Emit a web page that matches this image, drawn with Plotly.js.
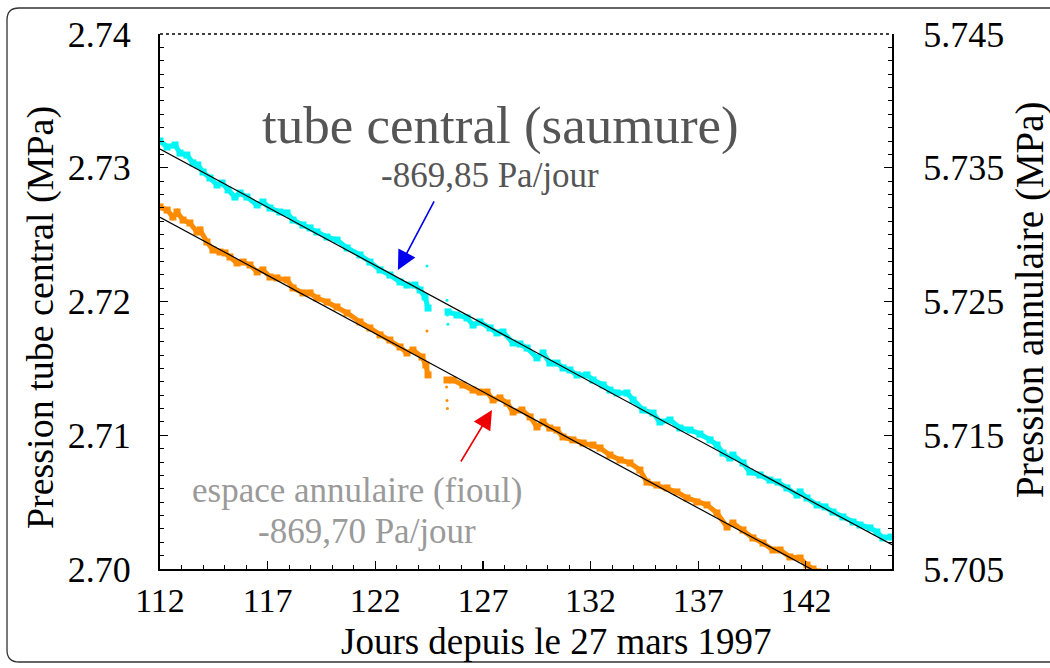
<!DOCTYPE html>
<html>
<head>
<meta charset="utf-8">
<script src="https://cdn.plot.ly/plotly-3.0.1.min.js"></script>
<style>html,body{margin:0;padding:0;background:#fff;}#chart{width:1050px;height:668px;}</style>
</head>
<body>
<div id="chart"></div>
<script>
// ---- data ----
// tube central (saumure) — left axis, MPa
var centralDays = [112.00,112.33,112.70,112.93,113.25,113.53,113.76,114.00,114.32,114.65,114.88,115.16,115.48,115.72,116.04,116.51,116.78,117.11,117.57,117.90,118.18,118.64,118.97,119.29,119.76,120.22,120.69,121.29,121.75,122.22,122.68,123.15,123.47,123.84,124.08,124.31,124.45,124.90,125.38,125.79,126.26,126.54,126.86,127.33,127.65,127.93,128.40,128.72,129.05,129.51,129.79,130.11,130.44,130.72,131.04,131.37,131.83,132.11,132.58,132.90,133.23,133.69,133.97,134.43,134.90,135.22,135.69,136.15,136.62,137.08,137.55,137.87,138.15,138.47,138.61,139.08,139.40,139.87,140.33,140.70,141.12,141.59,141.73,142.05,142.52,142.89,143.26,143.72,144.19,144.51,144.98,145.30,145.58,145.95];
var centralP = [2.73200,2.73155,2.73170,2.73110,2.73095,2.73036,2.73021,2.72968,2.72923,2.72871,2.72886,2.72834,2.72781,2.72811,2.72781,2.72722,2.72744,2.72699,2.72669,2.72662,2.72609,2.72572,2.72550,2.72520,2.72482,2.72460,2.72400,2.72348,2.72295,2.72236,2.72198,2.72146,2.72123,2.72123,2.72086,2.72034,2.71951,null,2.71922,2.71899,2.71877,2.71824,2.71847,2.71802,2.71765,2.71772,2.71690,2.71682,2.71652,2.71578,2.71615,2.71540,2.71540,2.71503,2.71488,2.71451,2.71451,2.71413,2.71376,2.71338,2.71316,2.71316,2.71264,2.71189,2.71166,2.71099,2.71114,2.71054,2.71039,2.71009,2.70965,2.70927,2.70867,2.70830,2.70852,2.70793,2.70725,2.70703,2.70665,2.70650,2.70606,2.70553,2.70576,2.70531,2.70479,2.70464,2.70426,2.70389,2.70351,2.70329,2.70307,2.70277,2.70232,2.70239];
var centralStrayDays = [124.40,125.33,125.35,125.37];
var centralStrayP = [2.72266,2.72010,2.71900,2.71830];

// espace annulaire (fioul) — right axis, MPa
var annDays = [112.00,112.33,112.60,112.79,113.07,113.39,113.72,113.86,114.18,114.46,114.79,115.02,115.25,115.58,115.86,116.18,116.51,116.78,117.11,117.43,117.90,118.18,118.64,118.97,119.29,119.76,120.22,120.69,121.29,121.75,122.22,122.68,123.15,123.47,123.75,124.17,124.35,124.45,124.90,125.33,125.61,126.07,126.54,126.86,127.19,127.47,127.79,128.12,128.40,128.81,129.19,129.51,129.79,130.11,130.44,130.72,131.18,131.65,132.11,132.44,132.90,133.37,133.83,134.29,134.62,135.08,135.55,136.01,136.48,136.94,137.41,137.87,138.34,138.61,139.08,139.54,140.01,140.47,140.80,141.26,141.73,142.05,142.33,142.56];
var annP = [5.73207,5.73184,5.73132,5.73169,5.73109,5.73087,5.73020,5.73035,5.72945,5.72885,5.72870,5.72863,5.72833,5.72788,5.72795,5.72773,5.72721,5.72736,5.72683,5.72676,5.72661,5.72601,5.72564,5.72564,5.72526,5.72496,5.72459,5.72414,5.72347,5.72302,5.72250,5.72212,5.72160,5.72115,5.72137,5.72085,5.72025,5.71951,null,5.71913,5.71913,5.71876,5.71838,5.71823,5.71823,5.71764,5.71779,5.71741,5.71674,5.71689,5.71637,5.71562,5.71599,5.71554,5.71539,5.71487,5.71465,5.71442,5.71427,5.71405,5.71352,5.71315,5.71293,5.71240,5.71150,5.71128,5.71106,5.71076,5.71031,5.71001,5.70979,5.70919,5.70814,5.70844,5.70792,5.70732,5.70694,5.70642,5.70642,5.70590,5.70582,5.70530,5.70500,5.70478];
var annStrayDays = [124.40,125.31,125.33,125.35];
var annStrayP = [5.72280,5.71860,5.71760,5.71700];

// fitted trend lines (end points)
var trendDays = [112, 146];
var trendCentral = [2.7314, 2.70181];
var trendAnn = [5.7313, 5.70173];

// labels
var xTitle = "Jours depuis le 27 mars 1997";
var yTitle = "Pression tube central (MPa)";
var y2Title = "Pression annulaire (MPa)";
var centralLabel = "tube central (saumure)";
var centralRate = "-869,85 Pa/jour";
var annLabel = "espace annulaire (fioul)";
var annRate = "-869,70 Pa/jour";

var FONT = "Liberation Serif";

var traces = [
  {x: centralDays, y: centralP, mode: "lines+markers", line: {color: "#00F5F5", width: 5}, marker: {color: "#00F5F5", size: 7, symbol: "square"}, yaxis: "y", connectgaps: false, hoverinfo: "skip"},
  {x: centralStrayDays, y: centralStrayP, mode: "markers", marker: {color: "#00F5F5", size: 3}, yaxis: "y", hoverinfo: "skip"},
  {x: annDays, y: annP, mode: "lines+markers", line: {color: "#FF8C00", width: 5}, marker: {color: "#FF8C00", size: 7, symbol: "square"}, yaxis: "y2", connectgaps: false, hoverinfo: "skip"},
  {x: annStrayDays, y: annStrayP, mode: "markers", marker: {color: "#FF8C00", size: 3}, yaxis: "y2", hoverinfo: "skip"},
  {x: trendDays, y: trendCentral, mode: "lines", line: {color: "#000", width: 1.2}, yaxis: "y", hoverinfo: "skip"},
  {x: trendDays, y: trendAnn, mode: "lines", line: {color: "#000", width: 1.2}, yaxis: "y2", hoverinfo: "skip"}
];

var layout = {
  width: 1050, height: 668,
  margin: {l: 160, r: 158, t: 34, b: 99, pad: 0},
  paper_bgcolor: "#fff", plot_bgcolor: "#fff",
  showlegend: false,
  font: {family: FONT, size: 34, color: "#000"},
  xaxis: {
    range: [112, 146], tick0: 112, dtick: 5, ticks: "inside", ticklen: 8, tickwidth: 1.2, tickcolor: "#000",
    showline: true, linecolor: "#000", linewidth: 2, showgrid: false, zeroline: false,
    ticklabelstandoff: 0,
    tickfont: {family: FONT, size: 34, color: "#000"},
    minor: {dtick: 1, tick0: 112, ticks: "inside", ticklen: 4, tickwidth: 1, tickcolor: "#000", showgrid: false}
  },
  yaxis: {
    range: [2.70, 2.74], tick0: 2.70, dtick: 0.01, tickformat: ".2f", ticks: "inside", ticklen: 8, tickwidth: 1.2, tickcolor: "#000",
    showline: true, linecolor: "#000", linewidth: 2, showgrid: false, zeroline: false,
    ticklabelstandoff: 20,
    tickfont: {family: FONT, size: 36, color: "#000"},
    minor: {dtick: 0.001, tick0: 2.70, ticks: "inside", ticklen: 4, tickwidth: 1, tickcolor: "#000", showgrid: false}
  },
  yaxis2: {
    overlaying: "y", side: "right",
    range: [5.705, 5.745], tick0: 5.705, dtick: 0.01, tickformat: ".3f", ticks: "inside", ticklen: 8, tickwidth: 1.2, tickcolor: "#000",
    showline: true, linecolor: "#000", linewidth: 2, showgrid: false, zeroline: false,
    ticklabelstandoff: 22,
    tickfont: {family: FONT, size: 36, color: "#000"},
    minor: {dtick: 0.001, tick0: 5.705, ticks: "inside", ticklen: 4, tickwidth: 1, tickcolor: "#000", showgrid: false}
  },
  shapes: [
    {type: "line", xref: "paper", yref: "paper", x0: 0, x1: 1, y0: 1, y1: 1, line: {color: "#000", width: 1.5, dash: "dot"}},
    {type: "path", xref: "paper", yref: "paper",
     path: "M -0.2090,1.0262 Q -0.2090,1.0486 -0.1926,1.0486 L 1.2227,1.0486 L 1.2227,-0.1738 L -0.1926,-0.1738 Q -0.2090,-0.1738 -0.2090,-0.1514 Z",
     line: {color: "#333", width: 1.3}, fillcolor: "rgba(0,0,0,0)"}
  ],
  annotations: [
    {text: centralLabel, xref: "paper", yref: "paper", x: 0.4645, y: 0.8299, showarrow: false, xanchor: "center", yanchor: "middle",
     font: {family: FONT, size: 53, color: "#555"}},
    {text: centralRate, xref: "paper", yref: "paper", x: 0.4508, y: 0.7346, showarrow: false, xanchor: "center", yanchor: "middle",
     font: {family: FONT, size: 35, color: "#555"}},
    {text: annLabel, xref: "paper", yref: "paper", x: 0.2691, y: 0.1458, showarrow: false, xanchor: "center", yanchor: "middle",
     font: {family: FONT, size: 35, color: "#9a9a9a"}},
    {text: annRate, xref: "paper", yref: "paper", x: 0.2828, y: 0.0692, showarrow: false, xanchor: "center", yanchor: "middle",
     font: {family: FONT, size: 35, color: "#9a9a9a"}},
    {text: "", x: 123.05, y: 2.72236, xref: "x", yref: "y", showarrow: true, ax: 37, ay: -70,
     arrowcolor: "#0000EE", arrowwidth: 1.6, arrowhead: 2, arrowsize: 2.4},
    {text: "", x: 127.42, y: 2.71189, xref: "x", yref: "y", showarrow: true, ax: -32, ay: 53,
     arrowcolor: "#EE0000", arrowwidth: 1.6, arrowhead: 2, arrowsize: 2.4},
    {text: xTitle, xref: "paper", yref: "paper", x: 0.541, y: -0.1346, showarrow: false, xanchor: "center", yanchor: "middle",
     font: {family: FONT, size: 37, color: "#000"}},
    {text: yTitle, xref: "paper", yref: "paper", x: -0.1639, y: 0.469, showarrow: false, xanchor: "center", yanchor: "middle", textangle: -90,
     font: {family: FONT, size: 38, color: "#000"}},
    {text: y2Title, xref: "paper", yref: "paper", x: 1.1885, y: 0.503, showarrow: false, xanchor: "center", yanchor: "middle", textangle: -90,
     font: {family: FONT, size: 39, color: "#000"}}
  ]
};

Plotly.newPlot("chart", traces, layout, {displayModeBar: false, staticPlot: true});
</script>
</body>
</html>
